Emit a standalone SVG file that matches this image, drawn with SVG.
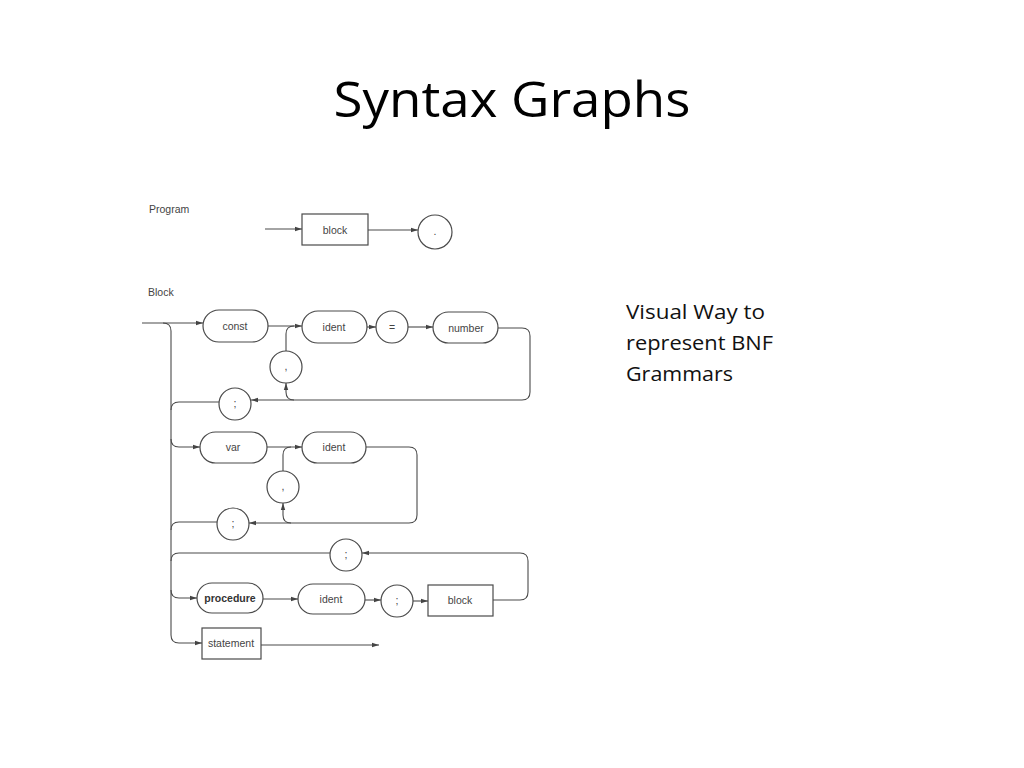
<svg xmlns="http://www.w3.org/2000/svg" width="1024" height="768" viewBox="0 0 1024 768">
<style>
.title{font-family:"Open Sans","Liberation Sans",sans-serif;font-size:50px;fill:#000}
.note{font-family:"Open Sans","Liberation Sans",sans-serif;font-size:20px;fill:#111}
.lbl{font-family:"Liberation Sans","DejaVu Sans",sans-serif;font-size:10.5px;fill:#444}
.t{font-family:"Liberation Sans","DejaVu Sans",sans-serif;font-size:10.5px;fill:#444;text-anchor:middle;dominant-baseline:central}
.b{font-weight:bold;fill:#333}
.sh{fill:#fff;stroke:#4a4a4a;stroke-width:1.2}
.ln{fill:none;stroke:#4a4a4a;stroke-width:1.1}
.ar{fill:none;stroke:#4a4a4a;stroke-width:1.1;marker-end:url(#ah)}
</style>
<defs>
<marker id="ah" markerUnits="userSpaceOnUse" markerWidth="8" markerHeight="6" refX="7" refY="3" orient="auto">
<path d="M0,0.8 L7,3 L0,5.2 Z" fill="#444"/>
</marker>
</defs>
<rect width="1024" height="768" fill="#fff"/>
<text class="title" x="512" y="117" text-anchor="middle" textLength="357" lengthAdjust="spacingAndGlyphs">Syntax Graphs</text>
<text class="note" x="626" y="319" textLength="139" lengthAdjust="spacingAndGlyphs">Visual Way to</text>
<text class="note" x="626" y="350" textLength="147" lengthAdjust="spacingAndGlyphs">represent BNF</text>
<text class="note" x="626" y="381" textLength="107" lengthAdjust="spacingAndGlyphs">Grammars</text>
<text class="lbl" x="149" y="213">Program</text>
<text class="lbl" x="148" y="296">Block</text>

<g id="connectors">
<path class="ar" d="M265,229 H302"/>
<path class="ar" d="M368,230 H418"/>
<path class="ar" d="M142,323 H203"/>
<path class="ar" d="M163,323 Q171,323 171,331 V635 Q171,643 179,643 H202"/>
<path class="ar" d="M268,326 H302"/>
<path class="ar" d="M367,327 H376"/>
<path class="ar" d="M408,327 H433"/>
<path class="ar" d="M498,328 H522 Q530,328 530,336 V392 Q530,400 522,400 H251"/>
<path class="ar" d="M294,400 Q286,400 286,392 V383"/>
<path class="ln" d="M286,351 V334 Q286,326 294,326"/>
<path class="ln" d="M219,402 H179 Q171,402 171,410"/>
<path class="ar" d="M171,439 Q171,447 179,447 H200"/>
<path class="ar" d="M267,447 H302"/>
<path class="ar" d="M366,447 H409 Q417,447 417,455 V515 Q417,523 409,523 H249"/>
<path class="ar" d="M291,523 Q283,523 283,515 V503"/>
<path class="ln" d="M283,471 V455 Q283,447 291,447"/>
<path class="ln" d="M217,522 H179 Q171,522 171,530"/>
<path class="ar" d="M493,600 H520 Q528,600 528,592 V561 Q528,553 520,553 H362"/>
<path class="ln" d="M330,553 H179 Q171,553 171,561"/>
<path class="ar" d="M171,590 Q171,598 179,598 H197"/>
<path class="ar" d="M263,599 H298"/>
<path class="ar" d="M365,600 H381"/>
<path class="ar" d="M413,601 H428"/>
<path class="ar" d="M261,645 H379"/>
</g>

<g id="prog-block"><rect class="sh" x="302" y="214" width="66" height="31"/><text class="t" x="335" y="230">block</text></g>
<g id="prog-dot"><circle class="sh" cx="435" cy="232" r="17"/><text class="t" x="435" y="231">.</text></g>

<g id="const"><rect class="sh" x="203" y="310" width="65" height="32" rx="16"/><text class="t" x="235" y="326">const</text></g>
<g id="ident1"><rect class="sh" x="302" y="311" width="65" height="32" rx="16"/><text class="t" x="334" y="327">ident</text></g>
<g id="eq"><circle class="sh" cx="392" cy="327" r="16"/><text class="t" x="392" y="327">=</text></g>
<g id="number"><rect class="sh" x="433" y="312" width="65" height="31" rx="15.5"/><text class="t" x="466" y="328">number</text></g>
<g id="comma1"><circle class="sh" cx="286" cy="367" r="16"/><text class="t" x="286" y="366">,</text></g>
<g id="semi1"><circle class="sh" cx="235" cy="404" r="16"/><text class="t" x="235" y="403">;</text></g>

<g id="var"><rect class="sh" x="200" y="432" width="67" height="31" rx="15.5"/><text class="t" x="233" y="447">var</text></g>
<g id="ident2"><rect class="sh" x="302" y="432" width="64" height="31" rx="15.5"/><text class="t" x="334" y="447">ident</text></g>
<g id="comma2"><circle class="sh" cx="283" cy="487" r="16"/><text class="t" x="283" y="486">,</text></g>
<g id="semi2"><circle class="sh" cx="233" cy="524" r="16"/><text class="t" x="233" y="523">;</text></g>

<g id="semi3"><circle class="sh" cx="346" cy="555" r="16"/><text class="t" x="346" y="554">;</text></g>
<g id="procedure"><rect class="sh" x="197" y="583" width="66" height="30" rx="15"/><text class="t b" x="230" y="598">procedure</text></g>
<g id="ident3"><rect class="sh" x="298" y="584" width="67" height="30" rx="15"/><text class="t" x="331" y="599">ident</text></g>
<g id="semi4"><circle class="sh" cx="397" cy="601" r="16"/><text class="t" x="397" y="600">;</text></g>
<g id="block2"><rect class="sh" x="428" y="585" width="65" height="31"/><text class="t" x="460" y="600">block</text></g>
<g id="statement"><rect class="sh" x="202" y="628" width="59" height="31"/><text class="t" x="231" y="643">statement</text></g>
</svg>
